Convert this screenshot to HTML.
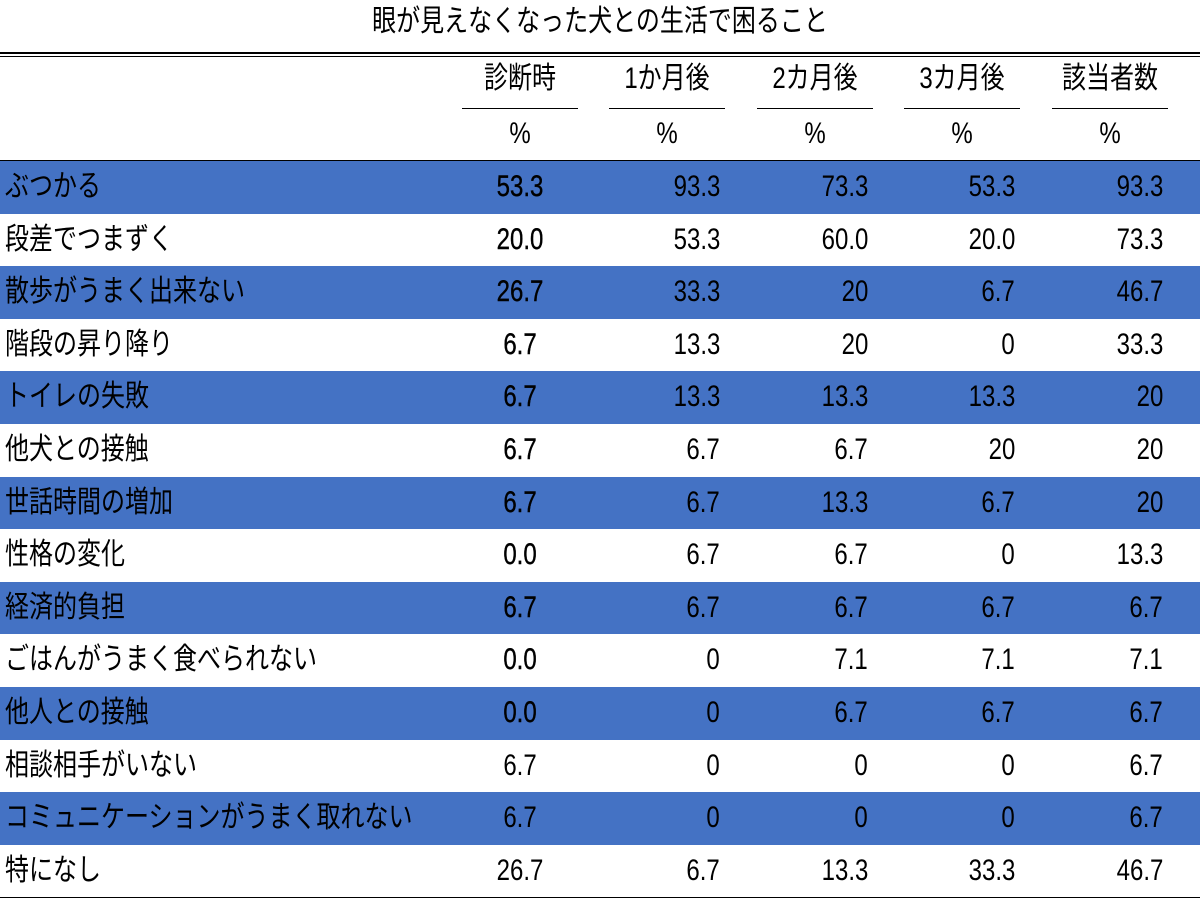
<!DOCTYPE html>
<html><head><meta charset="utf-8">
<style>
body{margin:0;background:#fff;width:1200px;height:900px;overflow:hidden;position:relative;font-family:"Liberation Sans","Noto Sans CJK JP",sans-serif;color:#000}
.t{position:absolute;white-space:nowrap;font-size:30px;line-height:34px}
.l{transform-origin:left center;transform:scaleX(0.8)}
.r{transform-origin:right center;transform:scaleX(0.8)}
.c{transform-origin:center center;transform:scaleX(0.8)}
.band{position:absolute;left:0;width:1200px;background:#4472C4}
.hl{position:absolute;height:1px;background:#000}
</style></head><body>
<div class="t c" style="left:300px;width:600px;top:5px;text-align:center;font-size:30px">眼が見えなくなった犬との生活で困ること</div>
<div class="hl" style="left:0;width:1200px;top:52px;height:2px"></div>
<div class="hl" style="left:0;width:1200px;top:56px"></div>
<div class="hl" style="left:0;width:1200px;top:160px"></div>
<script>
const headers=["診断時","1か月後","2カ月後","3カ月後","該当者数"];
const categories=["ぶつかる","段差でつまずく","散歩がうまく出来ない","階段の昇り降り","トイレの失敗","他犬との接触","世話時間の増加","性格の変化","経済的負担","ごはんがうまく食べられない","他人との接触","相談相手がいない","コミュニケーションがうまく取れない","特になし"];
const atDiagnosis=["53.3","20.0","26.7","6.7","6.7","6.7","6.7","0.0","6.7","0.0","0.0","6.7","6.7","26.7"];
const month1=["93.3","53.3","33.3","13.3","13.3","6.7","6.7","6.7","6.7","0","0","0","0","6.7"];
const month2=["73.3","60.0","20","20","13.3","6.7","13.3","6.7","6.7","7.1","6.7","0","0","13.3"];
const month3=["53.3","20.0","6.7","0","13.3","20","6.7","0","6.7","7.1","6.7","0","0","33.3"];
const applicable=["93.3","73.3","46.7","33.3","20","20","20","13.3","6.7","7.1","6.7","6.7","6.7","46.7"];
const series=[atDiagnosis,month1,month2,month3,applicable];
const colCenter=[520,667,815,962,1110];
const colRight=[547,720,868,1015,1163];
const top0=161,rowH=52.6;
const body=document.body;
headers.forEach((h,i)=>{
  const d=document.createElement('div');d.className='t c';
  
  
  d.style.cssText=`left:${colCenter[i]-80}px;width:160px;top:62px;text-align:center`;
  d.textContent=h;body.appendChild(d);
  const u=document.createElement('div');u.className='hl';
  
  
  u.style.cssText=`left:${colCenter[i]-58}px;width:116px;top:108px`;body.appendChild(u);
  const p=document.createElement('div');p.className='t c';
  
  
  p.style.cssText=`left:${colCenter[i]-40}px;width:80px;top:117px;text-align:center`;
  p.textContent='%';body.appendChild(p);
});
categories.forEach((c,r)=>{
  const y=top0+r*rowH;
  if(r%2===0){const b=document.createElement('div');b.className='band';
    
    
    b.style.cssText=`top:${y}px;height:${rowH}px`;body.appendChild(b);}
  const l=document.createElement('div');l.className='t l';
  
  
  l.style.cssText=`left:5px;top:${y+9}px`;l.textContent=c;body.appendChild(l);
  series.forEach((s,i)=>{
    const v=document.createElement('div');
    
    
    if(i===0){
      v.className='t c';
      v.style.cssText=`left:${colCenter[0]-60}px;width:120px;top:${y+9}px;text-align:center`+(r<11?';-webkit-text-stroke:0.4px #000':'');
    }else{
      v.className='t r';
      v.style.cssText=`right:${1200-colRight[i]}px;top:${y+9}px;text-align:right`;
    }
    v.textContent=s[r];body.appendChild(v);
  });
});
const bl=document.createElement('div');bl.className='hl';


bl.style.cssText=`left:0;width:1200px;top:${top0+categories.length*rowH}px`;body.appendChild(bl);
</script>
</body></html>
